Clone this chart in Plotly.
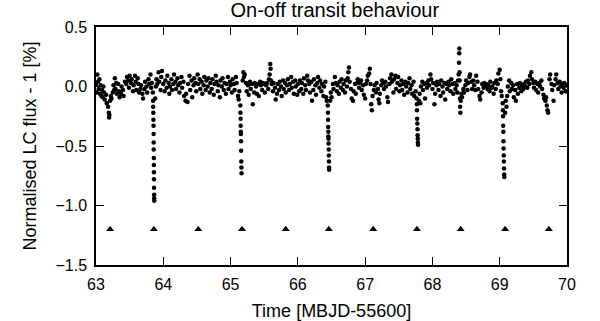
import plotly.graph_objects as go

# Light curve, one list of (time, flux) pairs per day
day_63 = [
    (63.00, 0.02), (63.01, -0.05), (63.02, 0.10), (63.03, 0.04), (63.04, -0.02), (63.05, 0.06),
    (63.06, -0.06), (63.07, 0.01), (63.08, -0.08), (63.09, -0.03), (63.10, -0.09), (63.11, 0.00),
    (63.12, -0.05), (63.13, -0.11), (63.15, -0.07), (63.16, -0.14), (63.18, -0.17), (63.19, -0.22),
    (63.195, -0.26), (63.20, -0.24), (63.21, -0.12), (63.22, -0.08), (63.23, -0.10), (63.25, -0.05),
    (63.26, 0.01), (63.27, -0.03), (63.28, 0.07), (63.29, -0.02), (63.30, 0.03), (63.31, -0.06),
    (63.33, 0.02), (63.34, -0.04), (63.35, -0.09), (63.37, -0.06), (63.38, 0.00), (63.40, -0.03),
    (63.41, -0.08), (63.43, 0.04), (63.45, 0.02), (63.46, 0.08), (63.48, 0.05), (63.49, -0.01),
    (63.50, 0.09), (63.52, 0.03), (63.53, 0.06), (63.55, -0.04), (63.56, 0.01), (63.58, 0.09),
    (63.59, 0.04), (63.60, -0.03), (63.62, 0.07), (63.63, 0.02), (63.64, -0.05), (63.66, -0.02),
    (63.67, 0.01), (63.69, -0.06), (63.70, -0.10), (63.72, -0.02), (63.73, 0.04), (63.75, 0.00),
    (63.76, -0.05), (63.78, 0.06), (63.79, 0.02), (63.81, 0.10), (63.82, -0.01), (63.83, 0.03),
    (63.845, -0.05), (63.848, -0.12), (63.85, -0.17), (63.852, -0.22), (63.853, -0.28),
    (63.855, -0.33), (63.856, -0.40), (63.857, -0.47), (63.858, -0.53), (63.859, -0.60),
    (63.86, -0.66), (63.861, -0.72), (63.862, -0.78), (63.863, -0.85), (63.864, -0.91),
    (63.865, -0.94), (63.866, -0.96),
    (63.88, -0.10), (63.89, 0.00), (63.90, 0.06), (63.91, 0.02), (63.93, 0.12), (63.94, 0.04),
    (63.96, -0.03), (63.97, 0.08), (63.98, 0.13), (64.00, 0.02),
]

day_64 = [
    (64.02, -0.04), (64.03, 0.05), (64.05, -0.01), (64.06, 0.09), (64.08, 0.03), (64.09, -0.06),
    (64.10, 0.00), (64.12, 0.06), (64.13, -0.03), (64.15, 0.02), (64.16, 0.10), (64.18, 0.04),
    (64.19, -0.02), (64.21, 0.07), (64.22, 0.01), (64.24, -0.05), (64.25, 0.03), (64.27, 0.08),
    (64.28, -0.01), (64.30, 0.04), (64.31, -0.08), (64.33, -0.12), (64.34, -0.06), (64.36, -0.13),
    (64.37, 0.02), (64.39, 0.09), (64.40, -0.03), (64.42, 0.05), (64.43, -0.09), (64.45, 0.01),
    (64.46, 0.07), (64.48, 0.03), (64.49, -0.04), (64.51, 0.10), (64.52, 0.02), (64.54, 0.06),
    (64.55, -0.02), (64.57, 0.04), (64.58, -0.06), (64.60, 0.01), (64.61, 0.08), (64.63, -0.03),
    (64.64, 0.05), (64.66, 0.00), (64.67, 0.07), (64.69, -0.05), (64.70, 0.03), (64.72, -0.02),
    (64.73, 0.06), (64.75, -0.07), (64.76, 0.02), (64.78, 0.09), (64.79, 0.04), (64.81, -0.04),
    (64.82, 0.01), (64.84, -0.09), (64.85, 0.05), (64.87, 0.00), (64.88, 0.07), (64.90, -0.03),
    (64.91, 0.03), (64.93, -0.06), (64.94, 0.02), (64.96, 0.08), (64.97, -0.02), (64.99, 0.04),
]

day_65 = [
    (65.00, 0.01), (65.02, -0.05), (65.03, 0.06), (65.05, 0.02), (65.06, -0.03), (65.08, 0.08),
    (65.09, 0.03), (65.11, -0.08), (65.12, -0.11), (65.13, -0.04),
    (65.145, -0.16), (65.147, -0.22), (65.149, -0.27), (65.15, -0.33), (65.152, -0.38),
    (65.153, -0.40), (65.155, -0.46), (65.157, -0.54), (65.159, -0.63), (65.161, -0.68),
    (65.163, -0.73),
    (65.18, 0.05), (65.19, 0.12), (65.20, 0.08), (65.21, 0.10), (65.23, 0.03), (65.24, -0.04),
    (65.26, 0.01), (65.27, -0.07), (65.29, 0.04), (65.30, -0.02), (65.32, 0.02), (65.33, -0.15),
    (65.35, -0.05), (65.36, 0.03), (65.38, 0.00), (65.39, -0.06), (65.41, 0.02), (65.42, -0.08),
    (65.44, 0.04), (65.45, 0.01), (65.47, -0.03), (65.48, 0.03), (65.50, 0.02), (65.51, -0.05),
    (65.53, 0.01), (65.54, 0.03), (65.56, -0.02), (65.57, 0.06), (65.58, 0.10), (65.59, 0.19),
    (65.595, 0.15), (65.60, 0.05), (65.61, 0.02), (65.63, -0.04), (65.64, 0.03), (65.66, -0.01),
    (65.67, -0.11), (65.69, -0.06), (65.70, 0.02), (65.72, -0.03), (65.73, 0.04), (65.75, 0.00),
    (65.76, -0.08), (65.78, 0.05), (65.79, -0.02), (65.81, 0.03), (65.82, -0.05), (65.84, 0.01),
    (65.85, 0.06), (65.87, -0.03), (65.88, 0.02), (65.90, 0.08), (65.91, -0.01), (65.93, 0.04),
    (65.94, -0.06), (65.96, 0.05), (65.97, 0.00), (65.99, -0.07),
]

day_66 = [
    (66.00, 0.02), (66.02, -0.04), (66.03, 0.05), (66.05, -0.02), (66.06, 0.03), (66.08, -0.06),
    (66.09, 0.07), (66.11, 0.01), (66.12, -0.03), (66.14, 0.09), (66.15, 0.05), (66.17, 0.02),
    (66.18, -0.05), (66.20, 0.04), (66.21, -0.12), (66.23, -0.03), (66.24, 0.06), (66.26, 0.01),
    (66.27, -0.07), (66.29, 0.03), (66.30, 0.08), (66.32, -0.01), (66.33, 0.05), (66.35, -0.04),
    (66.36, 0.02), (66.38, -0.08), (66.39, 0.00), (66.41, 0.04), (66.42, -0.09), (66.43, -0.12),
    (66.445, -0.16), (66.447, -0.22), (66.449, -0.28), (66.45, -0.34), (66.452, -0.38),
    (66.453, -0.42), (66.455, -0.44), (66.456, -0.48), (66.458, -0.53), (66.46, -0.58),
    (66.462, -0.63), (66.464, -0.68), (66.465, -0.70),
    (66.48, -0.12), (66.49, -0.05), (66.50, -0.09), (66.52, 0.02), (66.53, -0.02), (66.55, 0.08),
    (66.56, 0.03), (66.58, -0.04), (66.59, 0.01), (66.61, -0.06), (66.62, 0.04), (66.64, -0.01),
    (66.65, 0.06), (66.67, -0.03), (66.68, 0.02), (66.70, -0.05), (66.71, 0.05), (66.73, 0.00),
    (66.74, 0.07), (66.75, 0.12), (66.76, 0.16), (66.77, 0.04), (66.79, -0.02), (66.80, -0.10),
    (66.82, -0.12), (66.83, -0.04), (66.85, 0.02), (66.86, -0.06), (66.88, 0.03), (66.89, 0.06),
    (66.91, -0.01), (66.92, 0.03), (66.94, 0.05), (66.95, -0.03), (66.97, 0.01), (66.98, -0.07),
]

day_67 = [
    (67.00, -0.10), (67.01, 0.02), (67.03, 0.05), (67.04, 0.09), (67.06, 0.11), (67.07, 0.15),
    (67.08, 0.02), (67.09, -0.15), (67.10, -0.20), (67.11, -0.08), (67.13, -0.03), (67.14, 0.01),
    (67.16, -0.05), (67.17, 0.03), (67.19, -0.02), (67.20, -0.11), (67.21, -0.14), (67.22, -0.06),
    (67.24, 0.01), (67.25, 0.05), (67.27, 0.03), (67.28, -0.02), (67.30, 0.04), (67.31, 0.00),
    (67.33, -0.09), (67.34, -0.13), (67.36, 0.02), (67.37, 0.07), (67.39, 0.10), (67.40, 0.04),
    (67.42, -0.05), (67.43, 0.06), (67.45, 0.09), (67.46, -0.02), (67.48, 0.03), (67.49, 0.08),
    (67.51, -0.04), (67.52, 0.01), (67.54, 0.05), (67.55, -0.03), (67.57, 0.02), (67.58, -0.07),
    (67.60, 0.04), (67.61, 0.00), (67.63, -0.05), (67.64, 0.03), (67.66, 0.07), (67.67, -0.02),
    (67.69, 0.01), (67.70, -0.06), (67.72, 0.04), (67.73, -0.08), (67.75, -0.04),
    (67.765, -0.10), (67.768, -0.15), (67.77, -0.20), (67.773, -0.27), (67.776, -0.31),
    (67.778, -0.36), (67.78, -0.41), (67.782, -0.44), (67.784, -0.47), (67.786, -0.49),
    (67.80, -0.12), (67.81, -0.06), (67.82, -0.14), (67.83, 0.00), (67.85, 0.04), (67.86, -0.03),
    (67.88, 0.02), (67.89, -0.10), (67.91, 0.03), (67.92, -0.01), (67.94, 0.05), (67.95, 0.01),
    (67.97, 0.10), (67.98, 0.06),
]

day_68 = [
    (68.00, -0.02), (68.01, 0.03), (68.03, -0.15), (68.04, -0.06), (68.06, 0.01), (68.07, 0.04),
    (68.09, -0.03), (68.10, 0.02), (68.12, -0.08), (68.13, 0.05), (68.15, 0.00), (68.16, -0.05),
    (68.18, 0.03), (68.19, -0.11), (68.21, 0.02), (68.22, -0.02), (68.24, 0.04), (68.25, 0.01),
    (68.27, -0.04), (68.28, 0.06), (68.30, 0.02), (68.31, -0.06), (68.33, 0.03), (68.34, -0.02),
    (68.36, 0.01), (68.37, -0.05), (68.38, 0.05), (68.39, 0.10), (68.395, 0.20), (68.398, 0.28),
    (68.40, 0.32), (68.403, 0.12), (68.405, 0.05), (68.41, -0.10), (68.412, -0.17), (68.415, -0.22),
    (68.42, -0.12), (68.43, -0.06), (68.44, -0.09), (68.46, -0.02), (68.47, -0.05), (68.49, 0.01),
    (68.50, 0.05), (68.52, -0.03), (68.53, 0.03), (68.55, 0.08), (68.56, 0.10), (68.58, 0.04),
    (68.59, -0.02), (68.61, 0.05), (68.62, 0.01), (68.64, -0.03), (68.65, 0.09), (68.67, 0.04),
    (68.68, -0.02), (68.70, -0.08), (68.71, -0.11), (68.73, -0.05), (68.74, 0.02), (68.76, -0.01),
    (68.77, 0.03), (68.79, 0.00), (68.80, 0.02), (68.82, -0.02), (68.83, 0.01), (68.85, -0.04),
    (68.86, 0.04), (68.88, -0.01), (68.89, 0.00), (68.91, -0.06), (68.92, 0.03), (68.94, -0.02),
    (68.95, 0.05), (68.97, 0.02), (68.98, 0.11),
]

day_69 = [
    (69.00, 0.14), (69.01, 0.06), (69.02, -0.04), (69.03, -0.08),
    (69.045, -0.14), (69.048, -0.20), (69.05, -0.25), (69.052, -0.33), (69.054, -0.38),
    (69.056, -0.46), (69.058, -0.52), (69.06, -0.58), (69.062, -0.63), (69.064, -0.69),
    (69.066, -0.74), (69.068, -0.76),
    (69.08, -0.22), (69.09, -0.12), (69.10, -0.17), (69.11, -0.08), (69.12, 0.00), (69.14, 0.05),
    (69.15, -0.04), (69.17, 0.03), (69.18, -0.02), (69.20, 0.01), (69.21, -0.09), (69.23, -0.03),
    (69.24, -0.12), (69.26, 0.02), (69.27, -0.06), (69.29, -0.01), (69.30, 0.03), (69.32, -0.04),
    (69.33, 0.01), (69.35, -0.02), (69.36, 0.02), (69.38, 0.00), (69.39, 0.04), (69.41, -0.01),
    (69.42, 0.05), (69.44, 0.02), (69.45, 0.09), (69.47, 0.12), (69.48, 0.06), (69.50, 0.03),
    (69.51, -0.01), (69.53, 0.04), (69.54, -0.03), (69.56, 0.02), (69.57, -0.05), (69.59, 0.03),
    (69.60, 0.00), (69.62, 0.05), (69.63, -0.02), (69.65, -0.07), (69.66, -0.10), (69.68, -0.12),
    (69.69, -0.09), (69.70, -0.16), (69.71, -0.20), (69.72, -0.22), (69.74, 0.06), (69.75, 0.10),
    (69.77, 0.02), (69.78, -0.03), (69.80, -0.12), (69.81, 0.01), (69.83, 0.06), (69.84, 0.10),
    (69.86, 0.03), (69.87, -0.02), (69.89, 0.04), (69.90, 0.00), (69.92, -0.05), (69.93, 0.02),
    (69.95, -0.01), (69.96, 0.03), (69.98, -0.04), (69.99, 0.01),
]

# Predicted transit epochs, marked below the light curve
transit_times = [63.21, 63.86, 64.52, 65.17, 65.82, 66.46, 67.12, 67.77, 68.42, 69.08, 69.73]
marker_level = -1.2

points = day_63 + day_64 + day_65 + day_66 + day_67 + day_68 + day_69
time = [p[0] for p in points]
flux = [p[1] for p in points]

font = "Liberation Sans, Arial, sans-serif"

fig = go.Figure()
fig.add_trace(
    go.Scatter(
        x=time,
        y=flux,
        mode="markers",
        marker={"color": "black", "size": 4.5},
        showlegend=False,
    )
)
fig.add_trace(
    go.Scatter(
        x=transit_times,
        y=[marker_level] * len(transit_times),
        mode="markers",
        marker={"color": "black", "size": 7, "symbol": "triangle-up"},
        showlegend=False,
    )
)

axis_style = {
    "showgrid": False,
    "zeroline": False,
    "showline": True,
    "linecolor": "black",
    "linewidth": 1.5,
    "mirror": "ticks",
    "ticks": "inside",
    "ticklen": 8,
    "tickwidth": 1,
    "tickcolor": "black",
    "automargin": False,
    "tickfont": {"family": font, "size": 16, "color": "black"},
}

fig.update_xaxes(
    range=[63, 70],
    dtick=1,
    ticklabelstandoff=4,
    title={"text": "Time [MBJD-55600]", "font": {"family": font, "size": 18, "color": "black"}, "standoff": 12},
    **axis_style,
)
fig.update_yaxes(
    range=[-1.5, 0.5],
    dtick=0.5,
    tickformat=".1f",
    ticklabelstandoff=4,
    title={"text": "Normalised LC flux - 1 [%]", "font": {"family": font, "size": 18, "color": "black"}, "standoff": 14},
    **axis_style,
)
fig.update_layout(
    width=600,
    height=321,
    margin={"l": 96, "r": 33, "t": 27, "b": 56},
    plot_bgcolor="white",
    paper_bgcolor="white",
    title={
        "text": "On-off transit behaviour",
        "font": {"family": font, "size": 20, "color": "black"},
        "x": 0.558,
        "xanchor": "center",
        "y": 0.97,
        "yanchor": "middle",
    },
)

fig.write_html(
    "out.html",
    config={"displayModeBar": False},
    post_script="document.body.style.margin = '0';",
)
